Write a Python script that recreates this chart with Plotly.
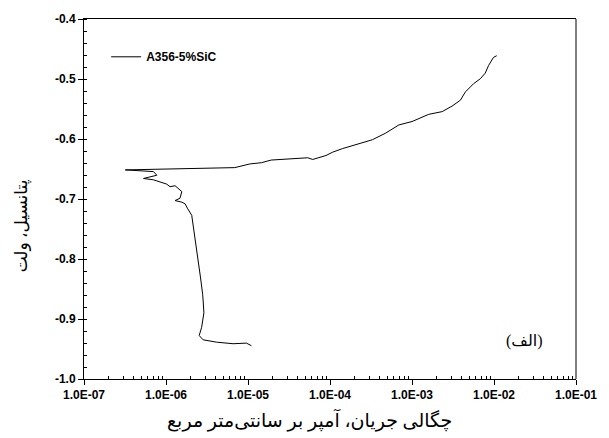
import plotly.graph_objects as go
import numpy as np

# Polarization curve: current density (A/cm^2) and potential (V)
current = [1.10e-5, 9.58e-6, 6.58e-6, 4.14e-6, 2.84e-6, 2.54e-6, 2.72e-6, 2.90e-6, 2.84e-6,
           2.80e-6, 2.64e-6, 2.47e-6, 2.32e-6, 2.15e-6, 2.06e-6, 1.82e-6, 1.71e-6, 1.56e-6,
           1.29e-6, 1.48e-6, 1.56e-6, 1.29e-6, 1.12e-6, 1.02e-6, 7.03e-7, 5.32e-7, 7.73e-7,
           7.03e-7, 3.19e-7,
           6.90e-6, 1.05e-5, 1.46e-5, 1.92e-5, 5.35e-5, 6.15e-5, 8.93e-5, 1.08e-4, 1.42e-4,
           2.07e-4, 3.29e-4, 4.79e-4, 6.93e-4, 1.00e-3, 1.60e-3, 2.33e-3, 3.08e-3, 3.89e-3,
           4.48e-3, 5.64e-3, 6.81e-3, 7.82e-3, 8.57e-3, 9.86e-3, 1.08e-2]
potential = [-0.9445, -0.9402, -0.9412, -0.9386, -0.9347, -0.9276, -0.9139, -0.8897, -0.870,
             -0.8589, -0.8316, -0.8041, -0.7766, -0.7493, -0.7272, -0.7152, -0.7081, -0.7053,
             -0.7026, -0.6988, -0.6877, -0.6779, -0.6795, -0.6752, -0.6680, -0.6658, -0.6604,
             -0.6543, -0.6515,
             -0.6477, -0.6416, -0.6395, -0.6351, -0.6313, -0.6341, -0.6275, -0.6219, -0.6160,
             -0.6094, -0.6012, -0.5901, -0.5765, -0.5709, -0.5589, -0.5544, -0.5452, -0.5353,
             -0.5215, -0.5078, -0.4996, -0.4902, -0.4777, -0.4639, -0.4612]

series_name = "A356-5%SiC"
x_tickvals = [1e-7, 1e-6, 1e-5, 1e-4, 1e-3, 1e-2, 1e-1]
x_ticktext = ["1.0E-07", "1.0E-06", "1.0E-05", "1.0E-04", "1.0E-03", "1.0E-02", "1.0E-01"]
y_tickvals = [-0.4, -0.5, -0.6, -0.7, -0.8, -0.9, -1.0]
y_ticktext = ["-0.4", "-0.5", "-0.6", "-0.7", "-0.8", "-0.9", "-1.0"]
x_title = "چگالی جریان، آمپر بر سانتی‌متر مربع"
y_title = "پتانسیل، ولت"
panel_label = "(الف)"

x_minor = [m * 10.0 ** e for e in range(-7, -1) for m in range(2, 10)]
y_minor = [round(v, 2) for v in np.arange(-1.0, -0.399, 0.02)]

tick_font = dict(family="Liberation Sans, Arial, sans-serif", size=12, color="black", weight="bold")
ar_font = "Times New Roman, Liberation Serif, DejaVu Sans, serif"

fig = go.Figure()
fig.add_trace(go.Scatter(x=current, y=potential, mode="lines", name=series_name,
                         line=dict(color="black", width=1)))

fig.update_layout(
    width=609, height=438,
    margin=dict(l=84, r=31, t=14, b=59),
    paper_bgcolor="white", plot_bgcolor="white",
    showlegend=True,
    legend=dict(x=0.045, y=0.895, xanchor="left", yanchor="middle",
                bgcolor="rgba(0,0,0,0)", font=dict(family="Liberation Sans, Arial, sans-serif",
                                                   size=12, color="black", weight="bold"),
                itemwidth=30),
    xaxis=dict(type="log", range=[-7, -1], tickmode="array", tickvals=x_tickvals,
               ticktext=x_ticktext, tickfont=tick_font, ticks="outside", ticklen=5,
               tickwidth=1, tickcolor="black", showline=True, linecolor="black", linewidth=1,
               mirror=True, showgrid=False, zeroline=False,
               minor=dict(ticks="inside", tickmode="array", tickvals=x_minor, ticklen=3,
                          tickcolor="black", showgrid=False)),
    yaxis=dict(range=[-1.0, -0.4], tickmode="array", tickvals=y_tickvals, ticktext=y_ticktext,
               tickfont=tick_font, ticks="outside", ticklen=5, tickwidth=1, tickcolor="black",
               showline=True, linecolor="black", linewidth=1, showgrid=False, zeroline=False,
               minor=dict(ticks="inside", tickmode="array", tickvals=y_minor, ticklen=3,
                          tickcolor="black", showgrid=False)),
)

# right frame edge (grey)
fig.add_shape(type="line", xref="paper", yref="paper", x0=1, x1=1, y0=0, y1=1,
              line=dict(color="#808080", width=2))

fig.add_annotation(text=x_title, xref="paper", yref="paper", x=(310 - 84) / 494, y=-0.115,
                   xanchor="center", yanchor="middle", showarrow=False,
                   font=dict(family=ar_font, size=19, color="black"))
fig.add_annotation(text=y_title, xref="paper", yref="paper", x=(22 - 84) / 494,
                   y=(379 - 224) / 365, xanchor="center", yanchor="middle", showarrow=False,
                   textangle=-90, font=dict(family=ar_font, size=17, color="black"))
fig.add_annotation(text=panel_label, xref="paper", yref="paper", x=(526 - 84) / 494,
                   y=(379 - 340) / 365, xanchor="center", yanchor="middle", showarrow=False,
                   font=dict(family=ar_font, size=16, color="black"))

fig.write_html("out.html", config={"displayModeBar": False},
               post_script="document.body.style.margin='0';document.body.style.padding='0';")
